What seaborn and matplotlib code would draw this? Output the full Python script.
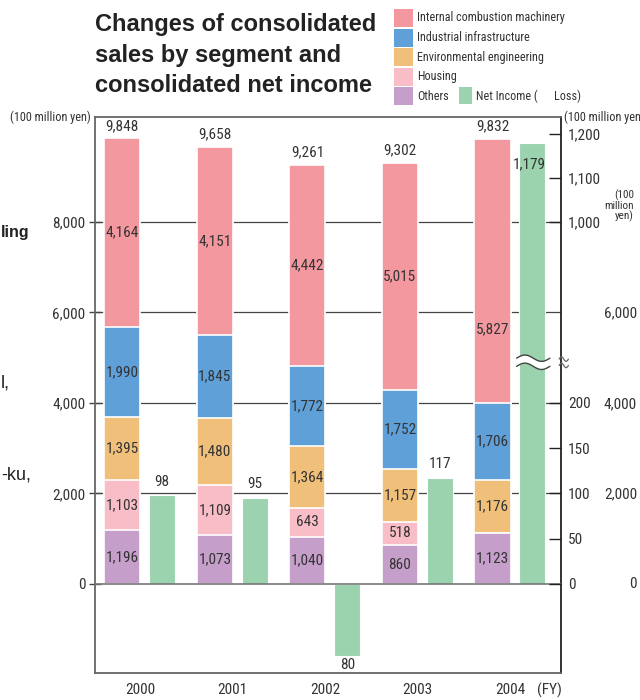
import numpy as np
import pandas as pd
import matplotlib
matplotlib.use("Agg")
import matplotlib.pyplot as plt
from matplotlib import font_manager as fm
from matplotlib.patches import Rectangle
import seaborn as sns

# ---- data (100 million yen) ----
years = ["2000", "2001", "2002", "2003", "2004"]
internal_combustion = [4164, 4151, 4442, 5015, 5827]
industrial_infra = [1990, 1845, 1772, 1752, 1706]
environmental = [1395, 1480, 1364, 1157, 1176]
housing = [1103, 1109, 643, 518, 0]
others = [1196, 1073, 1040, 860, 1123]
net_income = [98, 95, -80, 117, 1179]

left_ticks = [0, 2000, 4000, 6000, 8000]
right_ticks = [0, 50, 100, 150, 200, 1000, 1100, 1200]

colors = {
    "ice": "#F4989F",
    "ind": "#5FA0D8",
    "env": "#F0C07A",
    "hou": "#F8BDC6",
    "oth": "#C59FCA",
    "ni": "#9BD3AF",
}

sns.set_theme(style="white")
fonts = fm.fontManager.ttflist
names = {f.name for f in fonts}
narrow = None
for cand in ["Liberation Sans Narrow", "Roboto Condensed", "Open Sans Condensed", "DejaVu Sans Condensed"]:
    if cand in names:
        narrow = cand
        break
plt.rcParams["font.family"] = [narrow or "DejaVu Sans", "DejaVu Sans"]
plt.rcParams["font.stretch"] = "condensed"
TXT = "#333333"
FS = 11

# net income sits on a broken scale: 0-200 below the break, 1000-1200 above it
def ni_to_axis(v):
    return v * 20.0 if v < 500 else 8000 + (v - 1000) * 9.72

W, H = 640, 700
fig = plt.figure(figsize=(W / 100, H / 100), dpi=100)
ax = fig.add_axes([95 / W, 1 - 673 / H, (561 - 95) / W, (673 - 117) / H])

pos = np.arange(len(years))
sales_x = pos - 0.19
ni_x = pos + 0.24

segments = [
    ("oth", others),
    ("hou", housing),
    ("env", environmental),
    ("ind", industrial_infra),
    ("ice", internal_combustion),
]
cum = np.cumsum(np.array([s[1] for s in segments], dtype=float), axis=0)

# stacked bars drawn as overlaid cumulative totals, top layer first
for k in range(len(segments) - 1, -1, -1):
    df = pd.DataFrame({"x": sales_x, "y": cum[k]})
    sns.barplot(data=df, x="x", y="y", native_scale=True, width=0.39,
                color=colors[segments[k][0]], saturation=1, errorbar=None,
                edgecolor="white", linewidth=1.2, ax=ax, zorder=3)

ni_df = pd.DataFrame({"x": ni_x, "y": [ni_to_axis(v) for v in net_income]})
sns.barplot(data=ni_df, x="x", y="y", native_scale=True, width=0.28,
            color=colors["ni"], saturation=1, errorbar=None,
            edgecolor="white", linewidth=0.8, ax=ax, zorder=3)

ax.set_xlim(-0.485, 4.55)
ax.set_ylim(-1967, 10320)
ax.set_xlabel("")
ax.set_ylabel("")

# gridlines and zero line
for t in left_ticks[1:]:
    ax.axhline(t, color="#444444", lw=0.9, zorder=1)
ax.axhline(0, color="#777777", lw=1.2, zorder=4)

ax.set_xticks(pos)
ax.set_xticklabels(years, fontsize=FS, color=TXT)
ax.tick_params(axis="x", length=0, pad=7)
ax.set_yticks(left_ticks)
ax.set_yticklabels([f"{t:,}" for t in left_ticks], fontsize=FS, color=TXT)
ax.tick_params(axis="y", direction="inout", length=8, width=1, color="#444444", pad=3)
for side in ["left", "top", "bottom"]:
    ax.spines[side].set_color("#666666")
    ax.spines[side].set_linewidth(1.3)
ax.spines["right"].set_color("#222222")
ax.spines["right"].set_linewidth(1.3)
fig.text(549 / W, 1 - 690 / H, "(FY)", fontsize=FS, color=TXT, ha="center", va="center")

# right-hand axis for net income
ax2 = ax.twinx()
ax2.set_ylim(ax.get_ylim())
ax2.set_yticks([ni_to_axis(v) for v in right_ticks])
ax2.set_yticklabels([f"{v:,}" for v in right_ticks], fontsize=FS, color=TXT)
ax2.tick_params(axis="y", direction="in", length=9, width=1, color="#222222", pad=5)
for s in ax2.spines.values():
    s.set_visible(False)
ax2.grid(False)

# value labels inside segments
ice_frac = [0.5, 0.5, 0.5, 0.5, 0.28]
for i in range(len(years)):
    bottom = 0.0
    for k, (key, vals) in enumerate(segments):
        v = vals[i]
        if v > 0:
            frac = ice_frac[i] if key == "ice" else 0.5
            ax.text(sales_x[i], bottom + v * frac, f"{v:,}", ha="center", va="center",
                    fontsize=FS, color=TXT, zorder=6)
        bottom += v
    ax.text(sales_x[i], cum[-1][i] + 120, f"{int(cum[-1][i]):,}", ha="center", va="bottom",
            fontsize=FS, color=TXT, zorder=6)
    v = net_income[i]
    y = ni_to_axis(v)
    if v < 0:
        ax.text(ni_x[i], y - 40, f"{abs(v):,}", ha="center", va="top", fontsize=FS, color=TXT)
    elif v > 500:
        ax.text(ni_x[i] - 0.03, y - 300, f"{v:,}", ha="center", va="top", fontsize=FS, color=TXT, zorder=6)
    else:
        ax.text(ni_x[i], y + 150, f"{v:,}", ha="center", va="bottom", fontsize=FS, color=TXT)

# scale break marks
xb = np.linspace(ni_x[-1] - 0.17, ni_x[-1] + 0.19, 60)
wave = 70 * np.sin((xb - xb[0]) / (xb[-1] - xb[0]) * 2 * np.pi)
yb = 4900
ax.fill_between(xb, yb - 90 + wave, yb + 90 + wave, color="white", zorder=7, lw=0)
ax.plot(xb, yb - 90 + wave, color="#444444", lw=1.0, zorder=8)
ax.plot(xb, yb + 90 + wave, color="#444444", lw=1.0, zorder=8)
xs = np.linspace(4.53, 4.63, 30)
ws = 50 * np.sin((xs - xs[0]) / (xs[-1] - xs[0]) * 2 * np.pi)
for off in (-70, 70):
    ax.plot(xs, yb + off + ws, color="#666666", lw=0.9, zorder=8, clip_on=False)

# title
fig.text(95 / W, 1 - 13 / H, "Changes of consolidated\nsales by segment and\nconsolidated net income",
         ha="left", va="top", fontsize=17, fontweight="bold", color="#222222",
         family=["Liberation Sans", "DejaVu Sans"], fontstretch="normal", linespacing=1.42)

# legend
legend_rows = [
    ("ice", "Internal combustion machinery"),
    ("ind", "Industrial infrastructure"),
    ("env", "Environmental engineering"),
    ("hou", "Housing"),
    ("oth", "Others"),
]
for j, (key, label) in enumerate(legend_rows):
    yc = 18 + j * 19.5
    fig.add_artist(Rectangle((394 / W, 1 - (yc + 9) / H), 19 / W, 18 / H,
                             transform=fig.transFigure, color=colors[key], lw=0))
    fig.text(417 / W, 1 - yc / H, label, ha="left", va="center", fontsize=8.7, color=TXT)
yc = 96
fig.add_artist(Rectangle((459 / W, 1 - (yc + 8) / H), 13 / W, 17 / H,
                         transform=fig.transFigure, color=colors["ni"], lw=0))
fig.text(476 / W, 1 - yc / H, "Net Income (      Loss)", ha="left", va="center", fontsize=8.7, color=TXT)

# unit labels
fig.text(91 / W, 1 - 117 / H, "(100 million yen)", ha="right", va="center", fontsize=8.8, color=TXT)
fig.text(564 / W, 1 - 117 / H, "(100 million yen", ha="left", va="center", fontsize=8.8, color=TXT)
fig.text(634 / W, 1 - 206 / H, "(100\nmillion\nyen)", ha="right", va="center", fontsize=8,
         color=TXT, multialignment="right", linespacing=0.95)

# neighbouring page content at the margins
for val, yp in zip([6000, 4000, 2000, 0], [313, 404, 494, 584]):
    fig.text(637 / W, 1 - yp / H, f"{val:,}", ha="right", va="center", fontsize=FS, color=TXT)
fig.text(1 / W, 1 - 233 / H, "ling", ha="left", va="center", fontsize=11.5, fontweight="bold",
         color="#222222", family=["Liberation Sans", "DejaVu Sans"], fontstretch="normal")
fig.text(1 / W, 1 - 383 / H, "l,", ha="left", va="center", fontsize=13, color="#222222",
         family=["Liberation Sans", "DejaVu Sans"], fontstretch="normal")
fig.text(1 / W, 1 - 475 / H, "-ku,", ha="left", va="center", fontsize=13, color="#222222",
         family=["Liberation Sans", "DejaVu Sans"], fontstretch="normal")

fig.savefig("out.png", dpi=100)
